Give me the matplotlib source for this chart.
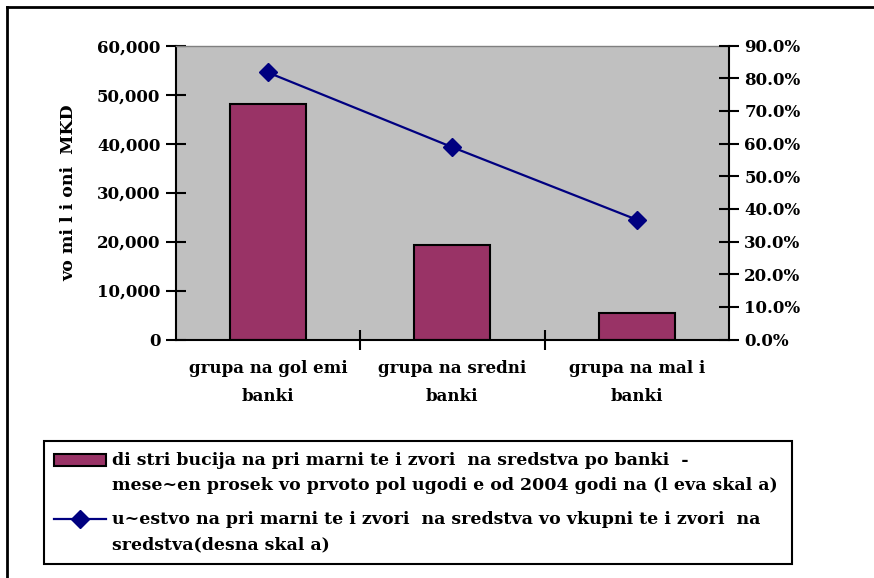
import matplotlib
matplotlib.use('Agg')
import matplotlib.pyplot as plt
from matplotlib.lines import Line2D
from matplotlib.container import BarContainer
from matplotlib.legend_handler import HandlerPatch, HandlerLine2D, update_from_first_child
from matplotlib.ticker import FuncFormatter

categories = ['grupa na gol emi\nbanki', 'grupa na sredni\nbanki', 'grupa na mal i\nbanki']
sredstva = [48100, 19300, 5400]
ucestvo = [81.8, 58.9, 36.7]
left_ticks = [0, 10000, 20000, 30000, 40000, 50000, 60000]
right_ticks = [0, 10, 20, 30, 40, 50, 60, 70, 80, 90]

bar_label = ('di stri bucija na pri marni te i zvori  na sredstva po banki  -\n'
             'mese~en prosek vo prvoto pol ugodi e od 2004 godi na (l eva skal a)')
line_label = ('u~estvo na pri marni te i zvori  na sredstva vo vkupni te i zvori  na\n'
              'sredstva(desna skal a)')

plt.rcParams['font.family'] = 'DejaVu Serif'
plt.rcParams['font.weight'] = 'bold'
plt.rcParams['axes.labelweight'] = 'bold'
plt.rcParams['font.size'] = 12

# handles sit on the first line of each two-line label
SHIFT = 9.5


class UpPatch(HandlerPatch):
    def create_artists(self, legend, orig_handle, xdescent, ydescent, width, height, fontsize, trans):
        return super().create_artists(legend, orig_handle, xdescent, ydescent - SHIFT,
                                      width, height, fontsize, trans)


class UpLine(HandlerLine2D):
    def create_artists(self, legend, orig_handle, xdescent, ydescent, width, height, fontsize, trans):
        return super().create_artists(legend, orig_handle, xdescent, ydescent - 2 * SHIFT,
                                      width, height, fontsize, trans)


fig = plt.figure(figsize=(8.74, 5.78), dpi=100)
ax = fig.add_axes([0.2009, 0.4126, 0.6332, 0.5084])
ax.set_facecolor('#C0C0C0')

x = list(range(len(categories)))
ax.bar(x, sredstva, width=0.41, color='#993366', edgecolor='black', linewidth=1.5,
       label=bar_label, zorder=2)
ax.set_xlim(-0.5, 2.5)
ax.set_ylim(0, 60000)
ax.set_yticks(left_ticks)
ax.yaxis.set_major_formatter(FuncFormatter(lambda v, p: f'{int(v):,}'))
ax.set_xticks(x)
ax.set_xticklabels(categories, linespacing=1.85)
ax.tick_params(axis='x', length=0, pad=15)
ax.set_xticks([0.5, 1.5], minor=True)
ax.tick_params(axis='x', which='minor', direction='inout', length=14, width=1.5)
ax.tick_params(axis='y', direction='inout', length=14, width=1.5, pad=4)
ax.set_ylabel('vo mi l i oni  MKD', fontsize=12.5)
ax.yaxis.set_label_coords(-0.178, 0.5)

ax.spines['top'].set_color('#808080')
ax.spines['top'].set_linewidth(1)
ax.spines['left'].set_linewidth(1.5)
ax.spines['bottom'].set_linewidth(1.5)
ax.spines['right'].set_visible(False)

ax2 = ax.twinx()
ax2.plot(x, ucestvo, color='#000080', linewidth=1.6, marker='D', markersize=9,
         label=line_label, zorder=3)
ax2.set_ylim(0, 90)
ax2.set_yticks(right_ticks)
ax2.yaxis.set_major_formatter(FuncFormatter(lambda v, p: f'{v:.1f}%'))
ax2.tick_params(axis='y', direction='inout', length=14, width=1.5, pad=4)
for s in ['top', 'left', 'bottom']:
    ax2.spines[s].set_visible(False)
ax2.spines['right'].set_linewidth(1.5)

h1, l1 = ax.get_legend_handles_labels()
h2, l2 = ax2.get_legend_handles_labels()
leg = fig.legend(h1 + h2, l1 + l2, loc='upper left',
                 bbox_to_anchor=(43.5 / 874, 1 - 441 / 578 - 0.01, 748 / 874, 0.01),
                 mode='expand', fancybox=False, framealpha=1, edgecolor='black',
                 handlelength=3.0, handletextpad=0.3, labelspacing=0.98,
                 borderpad=0.62, borderaxespad=0, fontsize=12.5,
                 handler_map={BarContainer: UpPatch(update_func=update_from_first_child),
                              Line2D: UpLine()})
leg.get_frame().set_linewidth(1.5)
for t in leg.get_texts():
    t.set_linespacing(1.62)

fig.add_artist(Line2D([7 / 874, 1], [1 - 7 / 578, 1 - 7 / 578], color='black', linewidth=2))
fig.add_artist(Line2D([7 / 874, 7 / 874], [0, 1 - 7 / 578], color='black', linewidth=2))

fig.savefig('out.png', dpi=100)
